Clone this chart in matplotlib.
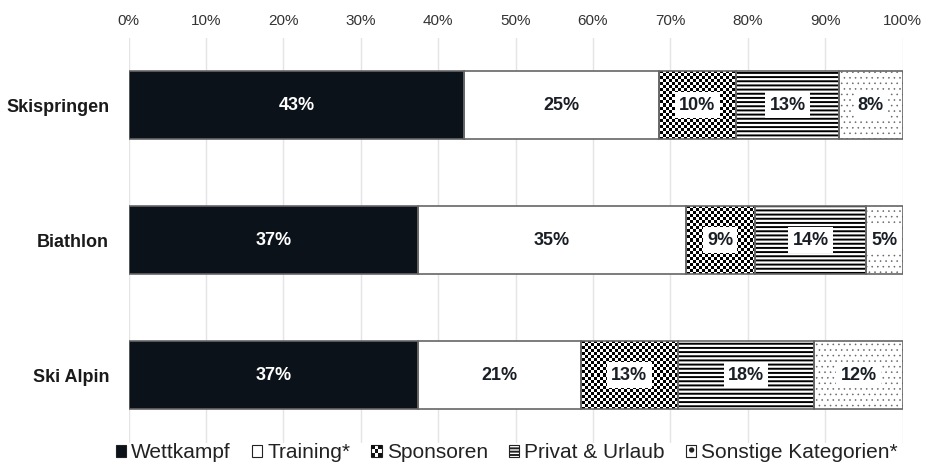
import numpy as np
import matplotlib
matplotlib.use("Agg")
import matplotlib.pyplot as plt
from matplotlib.patches import Patch, Rectangle
from matplotlib.legend_handler import HandlerBase

plt.rcParams['font.family'] = ['Liberation Sans', 'DejaVu Sans']
plt.rcParams['hatch.linewidth'] = 1.4

sports = ["Skispringen", "Biathlon", "Ski Alpin"]
series = ["Wettkampf", "Training*", "Sponsoren", "Privat & Urlaub", "Sonstige Kategorien*"]
wettkampf = [43.4, 37.4, 37.4]
training = [25.1, 34.6, 21.0]
sponsoren = [10.0, 8.9, 12.6]
privat = [13.3, 14.4, 17.6]
sonstige = [8.2, 4.7, 11.4]
labels = [[43, 25, 10, 13, 8],
          [37, 35, 9, 14, 5],
          [37, 21, 13, 18, 12]]

values = [wettkampf, training, sponsoren, privat, sonstige]
navy = "#0b121a"
edge = "#666666"

fig = plt.figure(figsize=(9.3, 4.66), dpi=100)
ax = fig.add_axes([0.1382, 0.0504, 0.8323, 0.8691])

y = np.arange(len(sports))
left = np.zeros(len(sports))
containers = []
for i, vals in enumerate(values):
    if i == 0:
        c = ax.barh(y, vals, left=left, height=0.5, color=navy, lw=0, zorder=3)
    elif i == 1:
        c = ax.barh(y, vals, left=left, height=0.5, color="white", lw=0, zorder=3)
    elif i == 2:
        c = ax.barh(y, vals, left=left, height=0.5, facecolor="none", lw=0, zorder=3)
    elif i == 3:
        c = ax.barh(y, vals, left=left, height=0.5, facecolor="white", edgecolor="black",
                    hatch="----", lw=0, zorder=3)
    else:
        with plt.rc_context({'hatch.linewidth': 0.4}):
            c = ax.barh(y, vals, left=left, height=0.5, facecolor="white", edgecolor="#666666",
                        hatch="...", lw=0, zorder=3)
    # outline
    ax.barh(y, vals, left=left, height=0.5, fill=False, edgecolor=edge, lw=1.2, zorder=4)
    containers.append(c)
    left = left + np.array(vals)

# checkerboard texture for Sponsoren, clipped to its bars
checker = np.indices((135, 258)).sum(axis=0) % 2
for p in containers[2].patches:
    im = ax.imshow(checker, extent=(0, 100, 2.5, -0.5), aspect="auto", cmap="gray",
                   vmin=0, vmax=1, interpolation="nearest", zorder=2.5)
    im.set_clip_path(p)
ax.set_xlim(0, 100)
ax.set_ylim(2.5, -0.5)
ax.set_aspect("auto")

# value labels
for i, c in enumerate(containers):
    for j, p in enumerate(c.patches):
        cx = p.get_x() + p.get_width() / 2
        cy = p.get_y() + p.get_height() / 2
        txt = f"{labels[j][i]}%"
        if i == 0:
            ax.text(cx, cy, txt, ha="center", va="center", color="white",
                    fontsize=13, fontweight="bold", zorder=6)
        elif i == 1:
            ax.text(cx, cy, txt, ha="center", va="center", color="#1a1f26",
                    fontsize=13, fontweight="bold", zorder=6)
        else:
            ax.text(cx, cy, txt, ha="center", va="center", color="#1a1f26",
                    fontsize=13, fontweight="bold", zorder=6,
                    bbox=dict(facecolor="white", edgecolor="none", pad=3))

ax.set_xticks(np.arange(0, 101, 10))
ax.set_xticklabels([f"{v}%" for v in range(0, 101, 10)])
ax.xaxis.tick_top()
ax.tick_params(axis="x", length=0, labelsize=11, labelcolor="#333333", pad=7)
ax.set_yticks(y)
ax.set_yticklabels(sports, fontsize=13, fontweight="bold", color="#1a1a1a")
ax.tick_params(axis="y", length=0, pad=14)
ax.grid(axis="x", color="#e4e4e4", lw=1)
ax.set_axisbelow(True)
for s in ax.spines.values():
    s.set_visible(False)


class CheckerHandler(HandlerBase):
    def create_artists(self, legend, orig_handle, xdescent, ydescent, width, height, fontsize, trans):
        x0, y0 = -xdescent, -ydescent
        arts = [Rectangle((x0, y0), width, height, fc="white", ec="#222222", lw=0.8, transform=trans)]
        n = 3
        w, h = width / n, height / n
        for a in range(n):
            for b in range(n):
                if (a + b) % 2 == 0:
                    arts.append(Rectangle((x0 + a * w, y0 + b * h), w, h, fc="#111111", lw=0, transform=trans))
        return arts


handles = [
    Patch(facecolor=navy, edgecolor="#222222", lw=0.8),
    Patch(facecolor="white", edgecolor="#222222", lw=0.8),
    Patch(facecolor="white", edgecolor="#222222", lw=0.8, label="checker"),
    Patch(facecolor="white", edgecolor="#222222", hatch="-----", lw=0.8),
    Patch(facecolor="white", edgecolor="#222222", hatch=".", lw=0.8),
]
leg = fig.legend(handles, series, loc="center", bbox_to_anchor=(0.545, 0.028), ncol=5,
                 frameon=False, fontsize=15, handlelength=0.5, handleheight=0.5,
                 handletextpad=0.25, columnspacing=1.0, labelcolor="#222222",
                 handler_map={handles[2]: CheckerHandler()})

fig.savefig("out.png", dpi=100)
